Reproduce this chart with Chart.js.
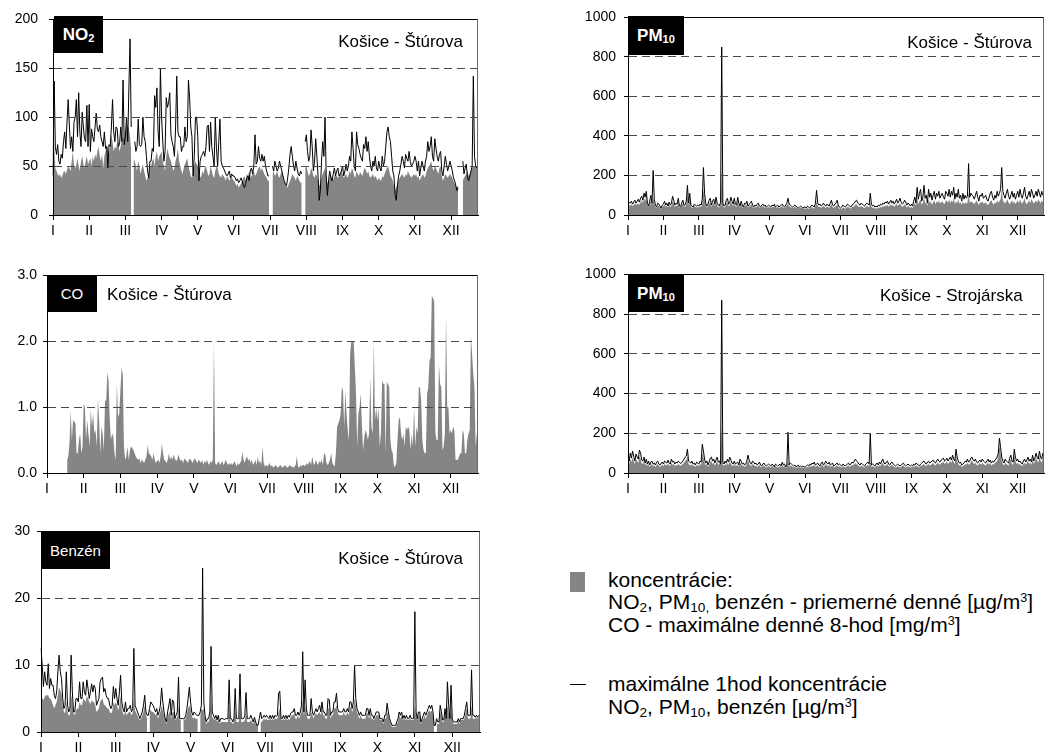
<!DOCTYPE html>
<html><head><meta charset="utf-8">
<script src="https://cdn.jsdelivr.net/npm/chart.js@4"></script>
<style>
html,body{margin:0;padding:0;background:#fff;overflow:hidden;}
body{width:1046px;height:755px;position:relative;font-family:'Liberation Sans',Arial,sans-serif;}
canvas{position:absolute;}
.box{position:absolute;background:#000;color:#fff;display:flex;align-items:center;justify-content:center;line-height:1;}
.t{position:absolute;font-size:17px;line-height:1;color:#000;white-space:nowrap;}
.lg{position:absolute;font-size:21px;line-height:1;color:#000;white-space:nowrap;left:608px;}
sub{font-size:0.65em;vertical-align:-0.2em;line-height:0;}
sup{font-size:0.6em;vertical-align:0.55em;line-height:0;}
</style></head><body>
<canvas id="cNO2"></canvas>
<canvas id="cPMs"></canvas>
<canvas id="cCO"></canvas>
<canvas id="cPMj"></canvas>
<canvas id="cBZ"></canvas>

<div class="box" style="left:54px;top:16px;width:49px;height:37px;font-size:17px;font-weight:bold;"><span>NO<sub>2</sub></span></div>
<div class="t" style="right:583px;top:33px;">Košice - Štúrova</div>
<div class="box" style="left:628px;top:16px;width:56px;height:39px;font-size:17px;font-weight:bold;"><span>PM<sub>10</sub></span></div>
<div class="t" style="right:14px;top:34px;">Košice - Štúrova</div>
<div class="box" style="left:47px;top:275px;width:50px;height:37px;font-size:15px;"><span>CO</span></div>
<div class="t" style="left:107px;top:286px;">Košice - Štúrova</div>
<div class="box" style="left:628px;top:274px;width:56px;height:38px;font-size:17px;font-weight:bold;"><span>PM<sub>10</sub></span></div>
<div class="t" style="left:880px;top:287px;">Košice - Strojárska</div>
<div class="box" style="left:41px;top:532px;width:69px;height:37px;font-size:15px;"><span>Benzén</span></div>
<div class="t" style="right:583px;top:550px;">Košice - Štúrova</div>

<div style="position:absolute;left:570px;top:572px;width:15px;height:20px;background:#858585;"></div>
<div style="position:absolute;left:570px;top:684px;width:16px;height:1px;background:#000;"></div>
<div class="lg" style="top:569px;">koncentrácie:</div>
<div class="lg" style="top:591px;">NO<sub>2</sub>, PM<sub>10,</sub> benzén - priemerné denné [µg/m<sup>3</sup>]</div>
<div class="lg" style="top:614px;">CO - maximálne denné 8-hod [mg/m<sup>3</sup>]</div>
<div class="lg" style="top:673px;">maximálne 1hod koncentrácie</div>
<div class="lg" style="top:696px;">NO<sub>2</sub>, PM<sub>10</sub>, benzén [µg/m<sup>3</sup>]</div>

<script>
// ---------- tick labels ----------
const monthTicks = ['I','II','III','IV','V','VI','VII','VIII','IX','X','XI','XII'];
const tickEvery = 31;
const days = Array.from({length: 365}, (_, i) => String(i));

// ---------- NO2 Košice - Štúrova ----------
const no2Avg = [
75,72,48,45,42,40,42,38,40,44,45,42,46,50,48,45,55,65,50,48,52,58,50,45,55,60,52,48,55,60,52,
55,58,50,60,55,62,58,65,70,60,55,62,48,60,65,72,68,62,70,82,75,65,70,68,75,72,65,70,78,80,75,
85,90,92,88,80,65,null,58,55,50,45,55,50,42,48,52,45,40,35,38,42,48,50,55,58,50,60,65,55,60,62,
65,55,50,45,60,68,62,58,55,50,45,48,55,60,68,55,50,45,42,48,52,55,58,50,45,40,38,42,50,55,52,
50,45,38,40,45,42,48,50,45,40,42,50,45,40,38,45,50,48,42,40,38,42,40,38,35,40,38,35,38,40,36,
35,33,30,32,28,30,32,35,38,40,35,42,40,45,38,40,42,45,40,42,45,48,50,45,48,45,42,40,38,35,35,
null,null,42,45,40,42,45,40,38,42,45,40,35,32,30,28,32,35,38,42,40,38,35,40,38,35,33,33,null,null,48,
50,45,40,42,48,45,40,38,42,40,35,30,32,38,42,45,48,40,32,35,38,40,38,36,40,42,40,38,40,42,45,
42,38,40,42,38,40,45,42,48,45,40,38,45,42,40,44,42,40,45,48,46,42,45,40,38,40,42,38,40,38,35,
38,36,35,40,38,42,45,48,50,45,40,38,35,30,25,28,32,35,38,40,42,40,38,42,40,45,42,40,38,40,42,
40,42,38,40,35,38,40,42,38,40,45,48,50,52,55,48,45,50,48,45,42,48,50,40,35,38,42,40,38,40,42,
40,38,35,32,30,28,30,null,null,null,35,38,40,42,45,40,42,45,48,50,50,50,50,50
];
const no2Max = [
40,137,70,62,72,55,52,62,58,75,85,68,95,118,92,68,80,65,95,100,118,80,125,85,70,105,90,78,75,112,70,
113,65,88,80,75,90,104,88,85,92,80,75,70,85,68,70,48,72,70,90,118,85,75,90,88,70,72,90,75,138,72,
80,100,75,130,180,90,null,null,75,65,70,98,72,70,72,100,80,75,60,45,38,55,55,68,65,122,110,130,85,70,150,
100,75,55,65,120,110,115,125,82,75,70,60,90,142,85,80,80,65,70,70,90,75,80,138,120,90,80,40,60,100,100,
80,35,55,60,62,65,60,70,90,92,65,95,70,60,50,100,68,50,75,98,55,50,48,45,42,40,42,45,38,42,40,
40,38,35,37,33,35,38,35,30,28,32,38,40,35,45,48,42,50,82,52,55,70,58,55,62,55,60,50,45,40,40,
null,null,50,45,55,50,45,48,55,50,45,40,35,32,30,38,48,62,70,60,50,45,55,48,42,40,45,42,null,null,75,
82,65,55,60,87,70,45,55,78,60,40,15,25,55,75,60,100,40,20,35,45,38,35,42,48,40,45,48,40,42,45,
50,40,45,52,45,50,60,55,85,68,50,45,85,72,68,62,58,55,72,68,80,65,75,60,50,45,55,50,60,48,45,
55,48,45,60,50,55,70,85,90,80,75,60,45,40,20,15,30,40,45,52,60,55,48,62,58,55,65,55,50,52,55,
60,55,45,55,40,48,55,50,45,55,60,75,65,70,80,60,55,78,68,60,55,62,65,45,40,50,60,52,45,50,55,
50,45,38,35,30,25,28,null,null,null,55,42,48,52,38,35,40,45,50,142,60,50,48,50
];

// ---------- PM10 Košice - Štúrova ----------
const pm10StAvg = [
55,50,45,55,45,50,60,50,55,60,50,65,75,60,85,70,95,50,40,55,75,50,90,60,40,35,45,45,38,30,40,
45,55,40,48,38,50,40,48,70,58,40,48,45,65,38,35,48,58,40,42,55,100,48,80,40,38,35,45,40,38,40,
38,45,40,60,130,80,48,38,45,58,65,40,55,62,45,70,48,40,38,50,230,48,38,40,58,65,45,48,70,55,45,
65,45,40,70,48,38,55,40,35,48,45,55,38,45,48,55,40,35,40,38,45,48,38,35,40,45,38,40,35,38,40,
38,35,40,38,45,35,38,40,35,38,40,45,38,35,40,48,60,45,40,38,35,38,40,38,35,30,35,38,35,30,35,
32,30,35,32,30,35,40,35,32,45,70,45,40,42,35,40,45,40,35,42,40,35,45,55,40,35,42,45,55,40,32,
30,32,38,35,32,35,42,40,35,32,40,42,45,52,55,45,42,40,45,42,38,35,42,45,42,38,65,42,35,38,32,
35,32,38,35,42,38,45,42,48,45,52,42,48,55,45,52,42,48,58,45,52,60,48,42,45,55,48,38,45,42,35,
42,35,52,62,45,85,55,70,80,50,62,90,58,65,45,80,60,70,52,65,75,55,70,62,75,58,65,70,60,55,75,
70,62,80,60,75,65,85,55,70,60,80,58,65,50,70,55,65,58,62,120,60,70,65,62,55,65,75,60,50,65,62,
70,58,60,65,55,50,60,70,75,60,52,65,58,75,62,70,80,130,75,65,58,70,80,62,55,65,75,60,70,55,65,
75,60,80,65,58,70,85,62,55,65,75,60,80,70,58,65,75,62,80,70,60,75,65,62
];
const pm10StMax = [
70,65,60,70,55,65,75,60,70,80,65,85,95,75,110,90,120,60,45,70,100,60,225,80,50,40,60,55,45,35,50,
55,70,50,60,45,65,50,60,95,75,50,60,55,85,45,40,60,75,48,52,70,150,60,110,50,45,40,55,50,45,50,
45,55,50,80,240,110,60,45,55,75,85,50,70,80,55,90,60,50,45,65,850,60,45,50,75,85,55,60,90,70,55,
85,55,50,90,60,45,70,50,40,60,55,70,45,55,60,70,50,40,50,45,55,60,45,40,50,55,45,50,40,45,50,
45,40,50,45,55,40,45,50,40,45,50,55,45,40,50,60,85,55,50,45,40,45,50,45,40,35,40,45,40,35,40,
40,35,45,40,35,45,50,45,40,60,125,60,50,55,45,50,60,50,45,55,50,45,60,75,50,45,55,60,75,50,40,
35,40,50,45,40,45,55,50,45,40,50,55,60,70,75,60,55,50,60,55,50,45,55,60,55,50,110,55,45,50,40,
45,40,50,45,55,50,60,55,65,60,70,55,65,75,60,70,55,65,80,60,70,85,65,55,60,75,65,50,60,55,45,
55,45,70,90,60,140,80,110,130,70,90,150,85,100,60,130,90,110,75,100,120,80,110,95,120,85,100,110,90,80,120,
110,95,130,90,120,100,140,80,110,90,130,85,100,70,110,80,100,85,95,260,90,110,100,95,80,100,120,90,70,100,95,
110,85,90,100,80,70,90,110,120,90,75,100,85,120,95,110,130,240,120,100,85,110,130,95,80,100,120,90,110,80,100,
120,90,130,100,85,110,140,95,80,100,120,90,130,110,85,100,120,95,130,110,90,120,100,95
];

// ---------- CO Košice - Štúrova (max. denné 8-hod) ----------
const coMax8h = [
null,null,null,null,null,null,null,null,null,null,null,null,null,null,null,null,null,
0.2,0.25,0.45,0.95,0.5,0.8,0.78,0.75,0.3,0.3,0.5,0.6,0.3,0.4,
1.05,1.0,0.5,0.8,0.6,0.4,0.97,0.7,0.9,0.6,0.65,0.4,1.13,0.8,0.3,0.7,0.6,0.35,1.1,1.1,1.53,1.4,0.8,0.5,0.6,0.55,0.3,0.2,1.35,0.85,0.9,
1.25,1.6,1.5,0.4,0.2,0.25,0.4,0.2,0.35,0.4,0.38,0.35,0.3,0.25,0.22,0.2,0.22,0.15,0.2,0.18,0.15,0.2,0.25,0.42,0.3,0.28,0.25,0.2,0.3,0.2,0.15,
0.18,0.2,0.15,0.25,0.44,0.3,0.2,0.18,0.15,0.2,0.3,0.2,0.25,0.2,0.28,0.22,0.18,0.2,0.28,0.22,0.18,0.2,0.15,0.22,0.2,0.18,0.15,0.2,0.22,0.18,0.15,
0.2,0.22,0.18,0.15,0.2,0.18,0.15,0.2,0.12,0.18,0.15,0.2,0.15,0.12,0.18,0.15,0.2,2.0,0.15,0.12,0.15,0.18,0.12,0.15,0.18,0.12,0.15,0.2,0.15,0.12,0.15,
0.12,0.15,0.12,0.18,0.15,0.1,0.15,0.12,0.15,0.18,0.32,0.2,0.15,0.22,0.25,0.18,0.22,0.15,0.2,0.12,0.15,0.2,0.12,0.25,0.15,0.18,0.12,0.4,0.15,0.1,0.12,
0.1,0.12,0.15,0.1,0.12,0.08,0.1,0.12,0.1,0.08,0.1,0.12,0.1,0.08,0.1,0.12,0.1,0.08,0.1,0.12,0.1,0.1,0.08,0.1,0.12,0.25,0.1,0.08,0.12,0.1,0.12,
0.12,0.1,0.15,0.12,0.15,0.18,0.12,0.25,0.15,0.12,0.2,0.15,0.12,0.18,0.15,0.2,0.12,0.3,0.28,0.15,0.12,0.15,0.2,0.3,0.15,0.12,0.1,0.3,0.7,0.75,0.8,
0.9,1.3,1.25,0.7,1.25,0.9,0.65,0.5,1.8,2.0,2.0,2.0,1.6,1.2,0.4,0.9,1.0,1.2,0.7,0.35,0.55,0.65,0.6,0.5,0.6,1.45,0.7,0.6,2.0,0.8,1.0,
0.8,1.0,0.4,0.6,1.4,1.35,1.35,0.3,1.38,1.35,1.3,0.5,0.35,0.3,0.1,0.1,0.15,0.5,0.8,0.85,0.6,0.5,0.6,0.4,0.7,0.65,0.7,0.65,0.35,0.6,0.4,
1.0,0.4,0.7,0.6,1.3,1.3,1.1,0.5,0.35,0.3,0.3,1.2,1.3,1.7,1.75,2.68,2.65,2.6,0.6,0.5,0.5,1.65,1.35,1.3,0.35,0.4,0.6,2.4,1.0,1.0,0.6,
0.65,0.6,0.7,0.65,0.2,0.2,0.2,0.25,0.3,0.3,0.65,0.6,0.3,0.3,0.5,0.6,0.65,2.08,1.8,1.5,1.3,0.4,0.6,0.5
];

// ---------- PM10 Košice - Strojárska ----------
const pm10SjAvg = [
65,45,70,55,80,60,45,70,60,50,85,70,48,45,60,38,50,35,45,30,40,45,35,38,30,40,45,35,30,38,40,
35,45,40,38,48,38,35,52,40,45,35,40,38,45,40,36,40,45,52,60,65,85,45,40,38,45,35,38,30,40,38,
35,45,40,100,80,52,38,45,30,40,55,60,45,52,38,48,60,40,45,70,240,42,35,45,38,52,40,60,48,38,35,
45,35,38,40,30,52,45,35,38,30,35,45,65,48,38,35,45,40,35,38,30,35,40,30,28,35,38,30,28,30,35,
30,28,35,30,25,35,30,28,30,35,28,40,30,35,25,30,60,30,38,35,30,28,30,25,28,30,25,28,25,28,25,
25,28,30,28,35,30,38,35,40,30,35,38,30,28,38,40,30,35,45,38,35,40,30,35,38,28,30,35,38,30,35,
30,28,35,30,28,30,35,38,30,35,40,38,45,50,45,40,35,30,38,35,30,28,35,38,40,35,60,30,35,30,28,
35,38,30,40,35,45,50,38,35,40,45,35,30,38,40,35,30,28,30,35,30,28,30,35,38,30,28,30,35,30,28,
30,28,35,30,38,35,30,28,35,38,42,45,38,35,42,45,38,42,45,50,42,38,45,52,45,42,50,52,58,45,50,
58,45,52,62,50,70,55,45,90,60,45,38,42,30,35,38,45,42,52,42,45,58,62,50,45,52,42,38,45,50,42,
52,45,42,38,45,52,42,50,38,45,42,50,55,62,80,140,100,60,45,38,52,45,42,38,58,70,45,42,90,60,45,
52,42,45,38,35,45,52,42,50,62,45,52,42,70,45,58,80,62,52,85,62,52,78,70
];
const pm10SjMax = [
90,60,100,75,110,85,60,95,80,70,115,100,65,60,80,50,70,45,60,40,55,60,45,50,40,55,60,45,40,50,55,
45,60,55,50,65,50,45,70,55,60,45,55,50,60,55,48,52,60,70,80,85,120,60,55,50,60,45,50,40,55,50,
45,60,55,145,110,70,50,60,40,55,75,80,60,70,50,65,80,55,60,45,870,55,45,60,50,70,55,80,65,50,45,
60,45,50,55,40,70,60,45,50,40,45,60,90,65,50,45,60,55,45,50,40,45,55,40,35,45,50,40,35,40,45,
40,35,45,40,30,45,40,35,40,45,35,55,40,45,30,40,205,40,50,45,40,35,40,30,35,40,30,35,30,35,30,
30,35,40,35,45,40,50,45,55,40,45,50,40,35,50,55,40,45,60,50,45,55,40,45,50,35,40,45,50,40,45,
40,35,45,40,35,40,45,50,40,45,55,50,60,70,60,55,45,40,50,45,40,35,45,50,55,45,200,40,45,40,35,
45,50,40,55,45,60,70,50,45,55,60,45,40,50,55,45,40,35,40,45,40,35,40,45,50,40,35,40,45,40,35,
40,35,45,40,50,45,40,35,45,50,55,60,50,45,55,60,50,55,60,65,55,50,60,70,60,55,65,70,75,60,65,
75,60,70,80,65,90,70,60,120,80,60,50,55,40,45,50,60,55,70,55,60,75,80,65,60,70,55,50,60,65,55,
70,60,55,50,60,70,55,65,50,60,55,65,70,80,100,175,130,80,60,50,70,60,55,50,75,90,60,55,120,80,60,
70,55,60,50,45,60,70,55,65,80,60,70,55,90,60,75,100,80,70,110,80,70,100,90
];

// ---------- Benzén Košice - Štúrova ----------
const benzAvg = [
5,5,4.8,5.2,5.5,5.5,5.5,5,5,4.5,4,3.5,4,4.5,5.5,6.7,6.2,5.8,4,3,2.8,4.5,3,2.5,2.5,5.5,4.5,2.8,2.5,3.2,3.5,
3.5,4.5,4,4,5,4.8,4.5,5.4,5,4.5,4.2,4.8,4.5,4.5,4,3,3.2,3.5,4.5,4.8,5,4.2,4,3.8,3.5,3.5,3,2.8,3,4.5,4,
4.5,4,3.2,4,5.5,3.5,2.8,2.5,3.2,2.5,2.8,3,3,2.5,2.8,5,3.2,2.8,2.5,2,1.8,2,2.5,3,4,2.5,2,null,3.5,3.2,3,
3,2.8,2.5,2.8,2,2.5,3,4,3.2,2.5,1.8,1.2,2.2,2.8,3.2,2,3,3,1.8,2,2.2,4,1.8,1.8,null,2,1.8,2,2.8,3.5,4,
3.5,2.5,2,2.2,2,2,2,null,2.5,3.5,3.2,3.5,2,1.2,1.5,1.5,2.2,5.5,2.2,2,1.8,2,1.5,2,1.2,1.5,1.5,1.5,1.5,1.5,1.5,
1.5,4,1.5,1.5,1.2,1.5,3.5,1.5,1.5,1.5,4,1.5,1.5,1.5,1.8,3,1.5,1.5,1.5,1.8,1.5,1.2,1.8,1.2,1,1,null,1.5,1.5,1.8,2,
1.8,2,1.8,1.8,2,1.8,2,1.8,2,2,2,3,3.5,1.8,1.8,2,1.8,2,1.8,2,1.8,2.2,2.5,2.5,2.8,2,2,2.5,2,2.5,3,
5,2.5,4,2.8,2,2,2,3,2.5,2,2.5,2.8,2.5,2.8,3,2.5,3.5,2.5,2.5,2,2,3.5,3.5,2,2.5,2.5,3.5,3.5,4,3,2.5,
2.5,2.5,2.5,3,2.5,2.5,3,2.5,3.5,3.8,3,3.5,5,4,3,2.5,2,2.5,2,2,2,2,2.8,2.8,2,2.8,2,2,1.8,2,2.5,
2.5,2.5,1.8,1.8,1.8,1.2,2,2,3,2.5,1.8,1.2,0.8,0.8,0.8,0.8,1.2,1.5,2.5,2,2.5,1.8,2,1.8,2,1.8,1.8,2,1.8,1.8,1.8,
4,2.5,1.8,2.5,2.5,1.2,1.8,2,2.5,2,2.5,3,3.2,3,3.2,2.5,1,null,1.2,1.2,1.2,3,2.5,1.5,1.5,2.8,1.8,4,3,1.8,4,
1.8,1.2,1.2,1.2,1.2,1.8,1.2,1.8,1.8,1.8,2,2.8,3.5,2,2,2,4,2,2,2,2.2,2,2.2,2
];
const benzMax = [
12.5,10,6.8,9,7.5,7,10.2,6.5,8,7,7,5.5,5,6,9,11.5,9,8,5,3.5,4,9,4,3,3.5,11.5,6,3,3,5,5,
4.5,7.5,5,5,7.5,6,5.5,7.8,6.5,5,6,7.2,6,7,6.5,4,4.5,5,7.5,8,8.2,6,6.5,5.5,5,5,4,3.5,4,6.8,5,
6.5,5,4,6,8.5,4.5,3.5,3,4.5,3,3.5,3.5,4,3,3.5,12.5,4,3.5,3,2.5,2,2.5,3,4,5.5,3,2.5,2.5,3.5,4.5,4.2,
4,3.5,3,3.5,2.5,3,4,6.6,4.5,3,2,1.5,3,4,5,2.5,4.8,4.5,2,2.5,3,8.2,2,2,2,2,2,2.5,3.5,5,6.7,
4.5,3,2.5,3,2.8,2.5,2.5,2.5,3,4,24.5,4.5,2.5,1.5,2,2,3,12.8,3,2.5,2,2.5,1.8,2.5,1.5,2,2,2,1.8,2,2,
2,7.8,2,2,1.5,2,6.5,2,2,2,8.7,2,2,2,2.5,5.9,2,2,2,2.5,2,1.5,2.2,1.5,1,1,2,3,2,2.2,2.5,
2.2,2.5,2.2,2,2.5,2,2.5,2,2.5,2.3,2.5,5.8,6.1,2,2,2.5,2,2.5,2,2.5,2.2,2.8,3,3,3.5,2.5,2.5,3,2.5,3,4,
12,3,7.8,3.5,2.5,2.5,2.5,5,3,2.5,3,3.5,3,3.5,4,3,4.5,3,3,2.5,2.5,5,4.8,2.5,3,3,4.5,4.5,5.8,3.5,3,
3,3,3,3.5,3,3,3.5,3,4.5,4.5,3.5,4.5,10,5,3.5,3,2.5,3,2.5,2.5,2.5,2.5,3.5,3.5,2.5,3.5,2.5,2.5,2,2.5,3,
3,3,2,2,2,1.5,2.5,2.5,4.3,3,2,1.5,1,1,1,1,1.5,2,3,2.5,3,2,2.5,2,2.5,2,2,2.5,2,2,2,
18,3,2,3,3,1.5,2,2.5,3,2.5,3,3.5,4,3.5,4,3,1,1,2,1.5,1.5,4,3,1.8,1.8,3.5,2,7.5,4,2,7,
2,1.5,1.5,1.5,1.5,2,1.5,2,2,2,2.5,3.5,4.5,2.5,2.5,2.5,9.3,2.5,2.5,2.2,2.5,2.2,2.5,2.2
];

// ---------- drawing ----------
Chart.defaults.font.family = "'Liberation Sans', Arial, sans-serif";
const GRAY = '#858585';

const framePlugin = {
  id: 'frame',
  afterDraw(chart) {
    const {ctx, chartArea: a} = chart;
    ctx.save();
    ctx.lineWidth = 1;
    ctx.strokeStyle = '#000';
    ctx.beginPath(); ctx.moveTo(a.left, Math.round(a.top) + 0.5); ctx.lineTo(a.right, Math.round(a.top) + 0.5); ctx.stroke();
    ctx.strokeStyle = '#6a6a6a';
    ctx.beginPath(); ctx.moveTo(Math.round(a.right) - 0.5, a.top); ctx.lineTo(Math.round(a.right) - 0.5, a.bottom); ctx.stroke();
    ctx.restore();
  }
};

function panel(id, g, yMax, yStep, fmt, avg, max, labelPad) {
  const YW = 60, PT = 15, PR = 2, XH = 35;
  const cv = document.getElementById(id);
  const w = g.r - g.l + YW + PR, h = g.b - g.t + PT + XH;
  cv.width = w; cv.height = h;
  cv.style.left = (g.l - YW) + 'px'; cv.style.top = (g.t - PT) + 'px';
  cv.style.width = w + 'px'; cv.style.height = h + 'px';
  const datasets = [];
  if (max) datasets.push({data: max, borderColor: '#000', borderWidth: 1, pointRadius: 0, fill: false, order: 0, spanGaps: false});
  datasets.push({data: avg, borderColor: 'rgba(0,0,0,0)', borderWidth: 0, backgroundColor: GRAY, pointRadius: 0, fill: 'origin', order: 1, spanGaps: false});
  new Chart(cv, {
    type: 'line',
    data: {labels: days, datasets},
    options: {
      responsive: false, animation: false, devicePixelRatio: 1, events: [],
      layout: {padding: {top: PT, right: PR, left: 0, bottom: 0}},
      plugins: {legend: {display: false}, tooltip: {enabled: false}},
      elements: {line: {tension: 0}},
      scales: {
        x: {
          type: 'category', offset: false,
          afterFit: s => { s.height = XH; },
          grid: {drawOnChartArea: false, drawTicks: true, tickLength: 5, color: '#000', tickColor: '#000', lineWidth: 1, z: 1},
          border: {display: true, color: '#000', width: 1, z: 1},
          ticks: {autoSkip: false, maxRotation: 0, minRotation: 0, padding: 3, color: '#000', font: {size: 14},
            callback: (v, i) => (i % tickEvery === 0 ? monthTicks[i / tickEvery] : null)}
        },
        y: {
          min: 0, max: yMax,
          afterFit: s => { s.width = YW; },
          ticks: {stepSize: yStep, padding: labelPad, color: '#000', font: {size: 14}, callback: v => fmt(v)},
          grid: {drawTicks: true, tickLength: 4, tickColor: '#000', lineWidth: 1, z: 1,
            color: c => (c.tick && (c.tick.value === 0 || c.tick.value === yMax)) ? 'rgba(0,0,0,0)' : '#4a4a4a'},
          border: {display: true, color: '#000', width: 1, dash: [8, 5], z: 1}
        }
      }
    },
    plugins: [framePlugin]
  });
}

const intFmt = v => String(v);
const decFmt = v => v.toFixed(1);
panel('cNO2', {l: 53, t: 15, r: 478, b: 215}, 200, 50, intFmt, no2Avg, no2Max, 11);
panel('cPMs', {l: 628, t: 16, r: 1044, b: 215}, 1000, 200, intFmt, pm10StAvg, pm10StMax, 8);
panel('cCO', {l: 47, t: 275, r: 478, b: 473}, 3, 1, decFmt, coMax8h, null, 6);
panel('cPMj', {l: 628, t: 273, r: 1044, b: 473}, 1000, 200, intFmt, pm10SjAvg, pm10SjMax, 8);
panel('cBZ', {l: 41, t: 531, r: 480, b: 732}, 30, 10, intFmt, benzAvg, benzMax, 7);
</script>
</body></html>
